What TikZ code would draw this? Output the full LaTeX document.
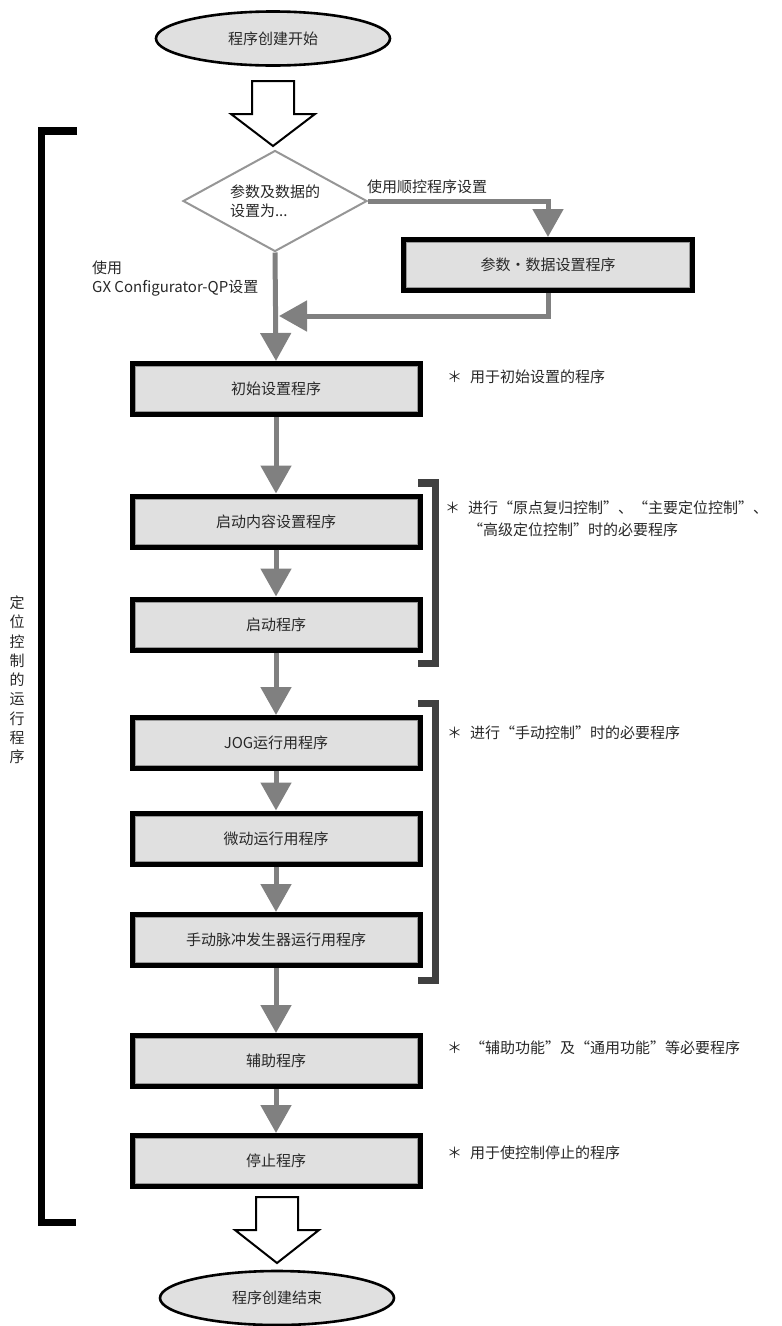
\documentclass[tikz,border=0pt]{standalone}
\usepackage{fontspec}
\setmainfont{Noto Sans CJK SC}
\usetikzlibrary{arrows.meta,shapes.geometric}
\definecolor{boxgray}{RGB}{224,224,224}
\definecolor{flowgray}{RGB}{128,128,128}
\definecolor{brkgray}{RGB}{64,64,64}
\definecolor{diagray}{RGB}{150,150,150}
\definecolor{inkgray}{RGB}{40,40,40}
\begin{document}
\begin{tikzpicture}[x=1pt,y=-1pt,
  txt/.style={font=\fontsize{15}{19}\selectfont, inner sep=0pt, text=inkgray},
  stepbox/.style={rectangle, draw=black, line width=5pt, fill=boxgray, minimum width=288pt, minimum height=51pt, inner sep=0pt, font=\fontsize{15}{19}\selectfont, text=inkgray,
    path picture={\draw[draw=flowgray!80, line width=1pt] ([shift={(3pt,-3pt)}]path picture bounding box.north west) rectangle ([shift={(-3pt,3pt)}]path picture bounding box.south east);}},
  terminal/.style={ellipse, draw=black, line width=2.6pt, fill=boxgray, minimum width=234pt, minimum height=54pt, inner sep=0pt, font=\fontsize{15}{19}\selectfont, text=inkgray},
  flow/.style={draw=flowgray, line width=5pt, -{Triangle[width=30pt,length=28pt]}},
  hollow/.style={draw=black, line width=2pt, fill=white, line join=miter},
  lbrk/.style={draw=black, line width=7.5pt, line join=miter},
  rbrk/.style={draw=brkgray, line width=7.5pt, line join=miter},
]
\useasboundingbox (0,0) rectangle (782,1326);

% terminals
\node[terminal] (start) at (273,38.5) {程序创建开始};
\node[terminal] (finish) at (277,1298) {程序创建结束};

% hollow arrows
\draw[hollow] (252,81) -- (294,81) -- (294,114) -- (315,114) -- (273,146) -- (231,114) -- (252,114) -- cycle;
\draw[hollow] (256,1197) -- (298,1197) -- (298,1230) -- (319,1230) -- (277,1263) -- (235,1230) -- (256,1230) -- cycle;

% decision
\node[diamond, draw=diagray, line width=2pt, fill=white, minimum width=184pt, minimum height=101pt, aspect=2, inner sep=0pt, align=left, font=\fontsize{15}{19}\selectfont, text=inkgray] (dia) at (275,201) {参数及数据的\\设置为...};

% boxes
\node[stepbox, minimum width=289pt] (param) at (548,265) {参数・数据设置程序};
\node[stepbox] (init) at (276,389) {初始设置程序};
\node[stepbox] (sc) at (276,521.5) {启动内容设置程序};
\node[stepbox] (st) at (276,624.5) {启动程序};
\node[stepbox] (jog) at (276,743) {JOG运行用程序};
\node[stepbox] (inch) at (276,838.5) {微动运行用程序};
\node[stepbox] (mpg) at (276,940) {手动脉冲发生器运行用程序};
\node[stepbox] (aux) at (276,1061) {辅助程序};
\node[stepbox] (stop) at (276,1161) {停止程序};

% connectors
\coordinate (join) at (279,316);
\draw[flow] (dia.east) -| (param.north);
\draw[flow] (param.south) |- (join);
\draw[flow] (dia.south) -- (init.north);
\draw[flow] (init.south) -- (sc.north);
\draw[flow] (sc.south) -- (st.north);
\draw[flow] (st.south) -- (jog.north);
\draw[flow] (jog.south) -- (inch.north);
\draw[flow] (inch.south) -- (mpg.north);
\draw[flow] (mpg.south) -- (aux.north);
\draw[flow] (aux.south) -- (stop.north);

% branch labels
\node[txt, anchor=west] (lseq) at (367,187) {使用顺控程序设置};
\node[txt, anchor=west, align=left] (lgx) at (92,278.5) {使用\\GX Configurator-QP设置};

% brackets
\draw[lbrk] (77,131) -- (41.5,131) -- (41.5,1222.5) -- (76,1222.5);
\draw[rbrk] (418,483) -- (435.5,483) -- (435.5,663.5) -- (418,663.5);
\draw[rbrk] (418,703.5) -- (435.5,703.5) -- (435.5,980.5) -- (418,980.5);

% vertical label
\node[txt, align=center, font=\fontsize{15}{19.25}\selectfont] (vt) at (17,680) {定\\位\\控\\制\\的\\运\\行\\程\\序};

% annotations
\node[txt, anchor=west] (n1) at (447,377) {＊\hspace{8pt}用于初始设置的程序};
\node[txt, anchor=west, align=left, font=\fontsize{15}{22}\selectfont] (n2) at (445,519) {＊\hspace{8pt}进行“原点复归控制”、“主要定位控制”、\\\hspace{23pt}“高级定位控制”时的必要程序};
\node[txt, anchor=west] (n3) at (447,733) {＊\hspace{8pt}进行“手动控制”时的必要程序};
\node[txt, anchor=west] (n4) at (447,1048) {＊\hspace{8pt}“辅助功能”及“通用功能”等必要程序};
\node[txt, anchor=west] (n5) at (447,1153) {＊\hspace{8pt}用于使控制停止的程序};
\end{tikzpicture}
\end{document}
